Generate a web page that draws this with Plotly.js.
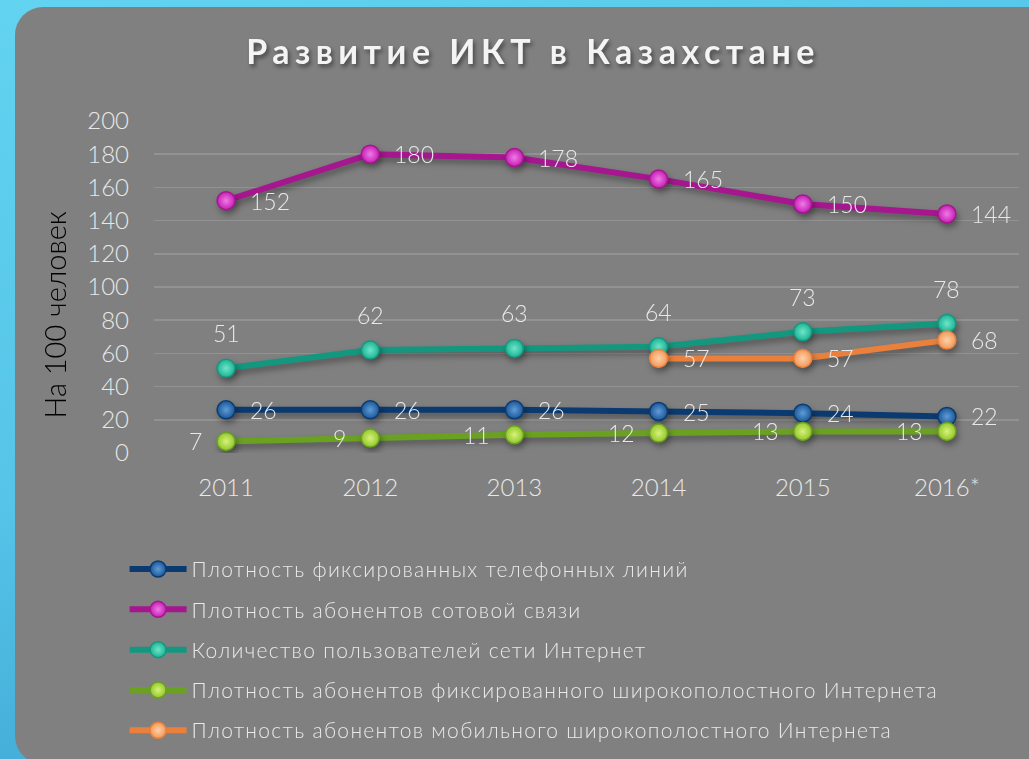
<!DOCTYPE html>
<html>
<head>
<meta charset="utf-8">
<script src="https://cdn.plot.ly/plotly-3.0.1.min.js"></script>
<style>
  html, body { margin:0; padding:0; width:1029px; height:759px; overflow:hidden; }
  body { background: linear-gradient(160deg, #62d3f0 0%, #55c4e8 45%, #2f8fc4 100%); position:relative; }
  #panel { position:absolute; left:15px; top:7px; width:1100px; height:757px; background:#808080; border-radius:28px; }
  #chart { position:absolute; left:0; top:0; width:1029px; height:759px; }
  .gtitle { letter-spacing: 5.5px; filter: drop-shadow(2px 3px 2px rgba(0,0,0,0.45)); }
  .legendtext { letter-spacing: 1.3px; }
  .scatterlayer .trace .lines, .scatterlayer .trace .points { filter: drop-shadow(2px 4px 3px rgba(0,0,0,0.35)); }
</style>
</head>
<body>
<div id="panel"></div>
<div id="chart"></div>
<script>
const years = ['2011', '2012', '2013', '2014', '2015', '2016*'];
const fixedPhone = [26, 26, 26, 25, 24, 22];
const mobile = [152, 180, 178, 165, 150, 144];
const internetUsers = [51, 62, 63, 64, 73, 78];
const fixedBroadband = [7, 9, 11, 12, 13, 13];
const mobileBroadband = [null, null, null, 57, 57, 68];

const seriesNames = [
  'Плотность фиксированных телефонных линий',
  'Плотность абонентов сотовой связи',
  'Количество пользователей сети Интернет',
  'Плотность абонентов фиксированного широкополостного Интернета',
  'Плотность абонентов мобильного широкополостного Интернета'
];
const seriesData = [fixedPhone, mobile, internetUsers, fixedBroadband, mobileBroadband];
const lineColors = ['#0b3a70', '#a5168f', '#14977f', '#6aa121', '#ea803c'];
const markerColors = ['#1c5896', '#c41fb3', '#1db393', '#93c72c', '#f09a5c'];
const markerCenters = ['#5f9bd8', '#f07ae6', '#6fe5c9', '#d6f27a', '#ffd0a8'];
// label placement per series: 'right', 'left', 'top'
const labelPlace = ['right', 'right', 'top', 'left', 'right'];

const labelFont = {family: 'Lato, sans-serif', size: 23, color: '#e8e8e8', weight: 300};

const traces = seriesData.map((d, i) => ({
  type: 'scatter',
  mode: 'lines+markers',
  name: seriesNames[i],
  legendgroup: 'g' + i,
  x: years,
  y: d,
  line: {color: lineColors[i], width: 6},
  marker: {
    size: 18,
    color: markerColors[i],
    line: {color: lineColors[i], width: 1.5},
    gradient: {type: 'radial', color: markerCenters[i]}
  },
  connectgaps: false,
  hoverinfo: 'skip'
}));

const annotations = [];
seriesData.forEach((d, i) => {
  d.forEach((v, j) => {
    if (v === null) return;
    const p = labelPlace[i];
    annotations.push({
      x: j, y: v, xref: 'x', yref: 'y',
      text: String(v), showarrow: false,
      font: labelFont,
      xanchor: p === 'right' ? 'left' : (p === 'left' ? 'right' : 'center'),
      yanchor: 'middle',
      xshift: p === 'right' ? 22 : (p === 'left' ? -22 : 0),
      yshift: p === 'top' ? 35 : 0
    });
  });
});

annotations.push({
  xref: 'paper', yref: 'paper', x: -0.1145, y: 0.417,
  xanchor: 'center', yanchor: 'middle',
  text: 'На 100 человек', textangle: -90, showarrow: false,
  font: {family: 'Lato, sans-serif', size: 29, color: '#000000', weight: 300}
});

const layout = {
  width: 1029, height: 759,
  paper_bgcolor: 'rgba(0,0,0,0)',
  plot_bgcolor: 'rgba(0,0,0,0)',
  margin: {l: 154, r: 10, t: 121, b: 305},
  title: {
    text: 'Развитие ИКТ в Казахстане',
    x: 0.518, xanchor: 'center',
    y: 0.931, yanchor: 'middle',
    font: {family: 'Lato, sans-serif', size: 34, color: '#f4f4f4', weight: 700}
  },
  xaxis: {
    type: 'category',
    range: [-0.5, 5.5],
    showgrid: false, zeroline: false, showline: false,
    ticks: '',
    tickfont: {family: 'Lato, sans-serif', size: 24, color: '#e8e8e8', weight: 300},
    ticklabelstandoff: 18
  },
  yaxis: {
    range: [0, 200],
    dtick: 20,
    showgrid: true, gridcolor: '#929292', gridwidth: 1.5,
    zeroline: false, showline: false,
    ticks: '',
    tickfont: {family: 'Lato, sans-serif', size: 24, color: '#e8e8e8', weight: 300},
    ticklabelstandoff: 24,
    automargin: false
  },
  showlegend: true,
  legend: {
    orientation: 'v',
    x: -0.034, xanchor: 'left',
    y: -0.285, yanchor: 'top',
    bgcolor: 'rgba(0,0,0,0)',
    font: {family: 'Lato, sans-serif', size: 21, color: '#e8e8e8', weight: 300},
    itemwidth: 57,
    tracegroupgap: 10,
    traceorder: 'grouped'
  },
  annotations: annotations,
  hovermode: false
};

Plotly.newPlot('chart', traces, layout, {displayModeBar: false, staticPlot: true});
</script>
</body>
</html>
